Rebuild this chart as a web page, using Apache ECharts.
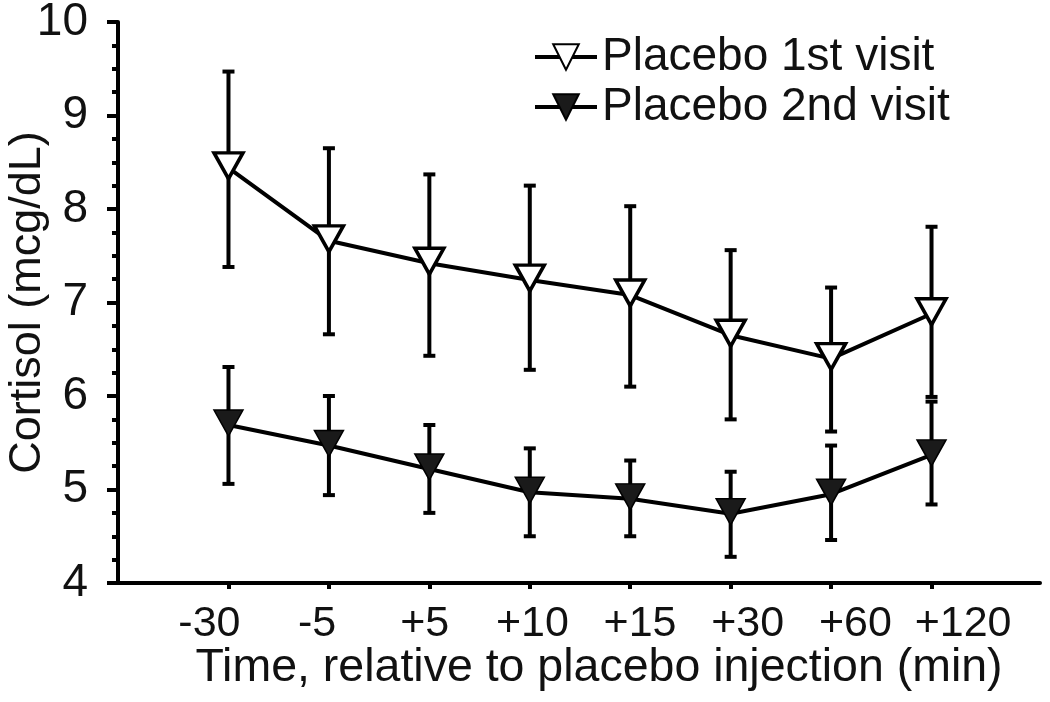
<!DOCTYPE html>
<html>
<head>
<meta charset="utf-8">
<script src="https://cdn.jsdelivr.net/npm/echarts@6/dist/echarts.min.js"></script>
<style>
html,body{margin:0;padding:0;background:#fff;}
#chart{width:1050px;height:702px;}
</style>
</head>
<body>
<div id="chart"></div>
<script>
const categories = ['-30', '-5', '+5', '+10', '+15', '+30', '+60', '+120'];
const visit1Mean  = [8.44, 7.66, 7.42, 7.24, 7.08, 6.65, 6.40, 6.88];
const visit1Upper = [9.47, 8.65, 8.37, 8.25, 8.03, 7.56, 7.16, 7.81];
const visit1Lower = [7.38, 6.66, 6.43, 6.28, 6.10, 5.75, 5.62, 5.99];
const visit2Mean  = [5.69, 5.47, 5.22, 4.97, 4.90, 4.74, 4.95, 5.37];
const visit2Upper = [6.31, 6.00, 5.69, 5.44, 5.31, 5.19, 5.47, 5.94];
const visit2Lower = [5.06, 4.94, 4.75, 4.50, 4.50, 4.28, 4.46, 4.84];
const yTicks = [4, 5, 6, 7, 8, 9, 10];
const seriesNames = ['Placebo 1st visit', 'Placebo 2nd visit'];

const FONT = '"Liberation Sans", Arial, sans-serif';
const idx = categories.map((c, i) => i);
// in the reference the tick labels are spread a little wider than the ticks
const LABEL_START = -0.19, LABEL_STEP = 1.072;
const labelPos = idx.map(i => +(LABEL_START + i * LABEL_STEP).toFixed(4));

function pts(mean) { return mean.map((v, i) => [i, v]); }
function errData(lo, hi) { return lo.map((v, i) => [i, v, hi[i]]); }

function errRender(params, api) {
  const x = api.value(0);
  const lo = api.coord([x, api.value(1)]);
  const hi = api.coord([x, api.value(2)]);
  const half = 6;
  const style = { stroke: '#000', lineWidth: 4 };
  return {
    type: 'group',
    children: [
      { type: 'line', shape: { x1: lo[0], y1: lo[1], x2: hi[0], y2: hi[1] }, style: style },
      { type: 'line', shape: { x1: lo[0] - half, y1: lo[1], x2: lo[0] + half, y2: lo[1] }, style: style },
      { type: 'line', shape: { x1: hi[0] - half, y1: hi[1], x2: hi[0] + half, y2: hi[1] }, style: style }
    ]
  };
}

const chart = echarts.init(document.getElementById('chart'), null, { renderer: 'canvas' });
chart.setOption({
  backgroundColor: '#fff',
  animation: false,
  textStyle: { fontFamily: FONT },
  grid: { left: 118, right: 10, top: 22, bottom: 119, containLabel: false, outerBoundsMode: 'none' },
  legend: {
    data: seriesNames,
    orient: 'vertical',
    left: 528,
    top: 29,
    itemWidth: 62,
    itemHeight: 32,
    itemGap: 4,
    lineStyle: { width: 4, color: '#000' },
    textStyle: { fontFamily: FONT, fontSize: 46, color: '#111' }
  },
  xAxis: {
    type: 'value',
    min: -1.1,
    max: 8.08,
    name: 'Time, relative to placebo injection (min)',
    nameLocation: 'middle',
    nameGap: 62,
    nameMoveOverlap: false,
    nameTextStyle: { fontFamily: FONT, fontSize: 46.5, color: '#111', padding: [0, 0, 0, 40] },
    axisLine: { show: true, onZero: false, lineStyle: { color: '#000', width: 4 } },
    axisTick: { show: true, inside: false, length: 6, customValues: idx, lineStyle: { color: '#000', width: 4 } },
    axisLabel: {
      customValues: labelPos,
      margin: 20,
      fontFamily: FONT, fontSize: 43, color: '#111',
      formatter: v => {
        const k = labelPos.findIndex(p => Math.abs(p - v) < 1e-3);
        return k >= 0 ? categories[k] : '';
      }
    },
    splitLine: { show: false }
  },
  yAxis: {
    type: 'value',
    min: 4,
    max: 10,
    interval: 1,
    name: 'Cortisol (mcg/dL)',
    nameLocation: 'middle',
    nameGap: 68,
    nameMoveOverlap: false,
    nameTextStyle: { fontFamily: FONT, fontSize: 45, color: '#111' },
    axisLine: { show: true, onZero: false, lineStyle: { color: '#000', width: 4 } },
    axisTick: { show: true, inside: false, length: 11, lineStyle: { color: '#000', width: 4 } },
    minorTick: { show: true, splitNumber: 4, length: 6, lineStyle: { color: '#000', width: 4 } },
    axisLabel: {
      margin: 30,
      fontFamily: FONT, fontSize: 46, color: '#111',
      formatter: v => String(v)
    },
    splitLine: { show: false },
    minorSplitLine: { show: false }
  },
  series: [
    {
      type: 'custom',
      renderItem: errRender,
      data: errData(visit1Lower, visit1Upper),
      z: 1,
      silent: true
    },
    {
      type: 'custom',
      renderItem: errRender,
      data: errData(visit2Lower, visit2Upper),
      z: 1,
      silent: true
    },
    {
      name: seriesNames[0],
      type: 'line',
      data: pts(visit1Mean),
      z: 3,
      symbol: 'triangle',
      symbolRotate: 180,
      symbolSize: [29, 26],
      symbolOffset: [0, -2],
      showSymbol: true,
      lineStyle: { color: '#000', width: 4 },
      itemStyle: { color: '#fff', borderColor: '#000', borderWidth: 3.5 }
    },
    {
      name: seriesNames[1],
      type: 'line',
      data: pts(visit2Mean),
      z: 3,
      symbol: 'triangle',
      symbolRotate: 180,
      symbolSize: [29, 26],
      symbolOffset: [0, -2],
      showSymbol: true,
      lineStyle: { color: '#000', width: 4 },
      itemStyle: { color: '#1a1a1a', borderColor: '#000', borderWidth: 1.5 }
    }
  ]
});
</script>
</body>
</html>
